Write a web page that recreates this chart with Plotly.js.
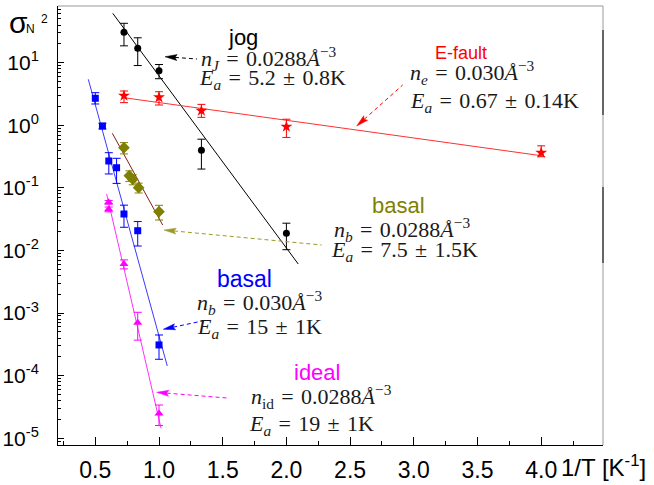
<!DOCTYPE html>
<html><head><meta charset="utf-8">
<script src="https://cdn.plot.ly/plotly-3.0.1.min.js"></script>
<style>html,body{margin:0;padding:0;background:#fff}#plot{width:654px;height:485px}</style>
</head><body><div id="plot"></div>
<script>
// ---------- data ----------
const jogX = [0.725, 0.833, 1.0, 1.333, 2.0];
const jogY = [30.6, 17.0, 7.45, 0.40, 0.0188];
const jogErr = [12, 8, 1.9, 0.2, 0.0085];
const jogFitX = [0.637, 2.093];
const jogFitY = [61.5, 0.00608];

const efX = [0.725, 1.0, 1.333, 2.0, 4.0];
const efY = [2.97, 2.80, 1.71, 0.95, 0.365];
const efErrP = [0.56, 0.64, 0.45, 0.30, 0.105];
const efErrM = [0.67, 0.69, 0.37, 0.31, 0.05];
const efFitX = [0.714, 4.0];
const efFitY = [2.78, 0.327];

const bbX = [0.5, 0.556, 0.606, 0.667, 0.725, 0.833, 1.0];
const bbY = [2.70, 0.975, 0.269, 0.210, 0.0383, 0.0207, 0.00031];
const bbErrP = [0.62, 0.10, 0.096, 0.087, 0.0147, 0.0083, 0.000137];
const bbErrM = [0.51, 0.10, 0.102, 0.092, 0.0148, 0.0089, 0.000127];
const bbFitX = [0.445, 1.065];
const bbFitY = [5.43, 0.000143];

const boX = [0.725, 0.767, 0.794, 0.84, 1.0];
const boY = [0.439, 0.157, 0.137, 0.101, 0.0417];
const boErr = [0.09, 0.03, 0.025, 0.018, 0.011];
const boFitX = [0.634, 1.029];
const boFitY = [0.745, 0.0255];

const idX = [0.605, 0.605, 0.725, 0.833, 1.0];
const idY = [0.059, 0.0455, 0.00608, 0.00070, 0.000025];
const idErr = [0.004, 0.004, 0.0010, 0.00033, 0.000009];
const idFitX = [0.589, 1.016];
const idFitY = [0.080, 0.0000145];

const xTickVals = [0.5, 1.0, 1.5, 2.0, 2.5, 3.0, 3.5, 4.0];
const xTickText = ['0.5', '1.0', '1.5', '2.0', '2.5', '3.0', '3.5', '4.0'];
const yTickVals = [10, 1, 0.1, 0.01, 0.001, 0.0001, 0.00001];
const yTickText = ['10<sup>1</sup>', '10<sup>0</sup>', '10<sup>-1</sup>', '10<sup>-2</sup>', '10<sup>-3</sup>', '10<sup>-4</sup>', '10<sup>-5</sup>'];

// ---------- layout geometry ----------
const W = 654, H = 485, ML = 58, MR = 51, MT = 6, MB = 40;
const PW = W - ML - MR, PH = H - MT - MB;
const px = x => (x - ML) / PW;
const py = y => (H - MB - y) / PH;

const OLIVE = '#808000', BLUE = '#0000ff', MAG = '#ff00ff', RED = '#ff0000';
const SANS = 'Liberation Sans, Arial, sans-serif';
const SERIF = 'Liberation Serif, Times New Roman, serif';

function pts(x, y, ep, em, color, symbol, size) {
  return {x: x, y: y, type: 'scatter', mode: 'markers', cliponaxis: false,
    marker: {color: color, symbol: symbol, size: size, line: {width: 0}},
    error_y: {type: 'data', array: ep, arrayminus: em, symmetric: false, color: color, thickness: 1, width: 4},
    showlegend: false, hoverinfo: 'skip'};
}
function fit(x, y, color) {
  return {x: x, y: y, type: 'scatter', mode: 'lines', line: {color: color, width: 1}, showlegend: false, hoverinfo: 'skip'};
}

const data = [
  fit(jogFitX, jogFitY, '#000000'),
  fit(efFitX, efFitY, '#ff3030'),
  fit(bbFitX, bbFitY, '#3a3aff'),
  fit(boFitX, boFitY, '#8b1a1a'),
  fit(idFitX, idFitY, '#ff30ff'),
  pts(jogX, jogY, jogErr, jogErr, '#000000', 'circle', 7),
  pts(efX, efY, efErrP, efErrM, RED, 'star', 9),
  pts(bbX, bbY, bbErrP, bbErrM, BLUE, 'square', 7),
  pts(boX, boY, boErr, boErr, OLIVE, 'diamond', 9),
  pts(idX, idY, idErr, idErr, MAG, 'triangle-up', 8)
];

const annotations = [];
const shapes = [];
function T(text, x, y, size, color, family, xanchor) {
  annotations.push({text: text, x: px(x), y: py(y), xref: 'paper', yref: 'paper',
    xanchor: xanchor || 'left', yanchor: 'middle', showarrow: false,
    font: {family: family, size: size, color: color}});
}
function arrow(tx, ty, sx, sy, color) {
  const dx = sx - tx, dy = sy - ty, L = Math.hypot(dx, dy);
  const ux = dx / L, uy = dy / L, nx = -uy, ny = ux;
  const hl = 12, hw = 3;
  const b1 = [tx + ux * hl + nx * hw, ty + uy * hl + ny * hw];
  const b2 = [tx + ux * hl - nx * hw, ty + uy * hl - ny * hw];
  const nc = [tx + ux * (hl - 2), ty + uy * (hl - 2)];
  shapes.push({type: 'line', xref: 'paper', yref: 'paper', x0: px(nc[0]), y0: py(nc[1]), x1: px(sx), y1: py(sy),
    line: {color: color, width: 1, dash: '4px,3px'}});
  shapes.push({type: 'path', xref: 'paper', yref: 'paper',
    path: 'M' + px(tx) + ',' + py(ty) + ' L' + px(b1[0]) + ',' + py(b1[1]) + ' L' + px(nc[0]) + ',' + py(nc[1]) +
      ' L' + px(b2[0]) + ',' + py(b2[1]) + ' Z',
    fillcolor: color, line: {color: color, width: 0.5}});
}

const SP = '\u2004';
const eq = SP + '=' + SP;
const pm = SP + '±' + SP;
const A3 = '<i>Å</i><sup>−3</sup>';
const MT_C = '#1a1a1a', MS = 22;

// y-axis title
T('σ', 7, 23, 30, '#000', SANS);
T('N', 24, 29, 12, '#000', SANS);
T('2', 39, 19, 12, '#000', SANS);

// x-axis title
T('1/T [K<sup>-1</sup>]', 559, 466, 24, '#000', SANS);

// jog
T('jog', 243, 37, 22, '#000', SANS, 'center');
T('<i>n</i><sub><i>J</i></sub>' + eq + '0.0288' + A3, 199, 58, MS, MT_C, SERIF);
T('<i>E</i><sub><i>a</i></sub>' + eq + '5.2' + pm + '0.8K', 197, 78.5, MS, MT_C, SERIF);
arrow(165, 56.7, 197, 59, '#000000');

// E-fault
T('E-fault', 461, 53, 18, RED, SANS, 'center');
T('<i>n</i><sub><i>e</i></sub>' + eq + '0.030' + A3, 408, 73, MS, MT_C, SERIF);
T('<i>E</i><sub><i>a</i></sub>' + eq + '0.67' + pm + '0.14K', 408, 102.5, MS, MT_C, SERIF);
arrow(356.7, 126, 402.7, 85, RED);

// basal (olive)
T('basal', 398, 205, 22, OLIVE, SANS, 'center');
T('<i>n</i><sub><i>b</i></sub>' + eq + '0.0288' + A3, 332, 230, MS, MT_C, SERIF);
T('<i>E</i><sub><i>a</i></sub>' + eq + '7.5' + pm + '1.5K', 329, 251, MS, MT_C, SERIF);
arrow(164, 230, 321.7, 245, '#9a9a2a');

// basal (blue)
T('basal', 244, 279, 23, BLUE, SANS, 'center');
T('<i>n</i><sub><i>b</i></sub>' + eq + '0.030' + A3, 195, 302.5, MS, MT_C, SERIF);
T('<i>E</i><sub><i>a</i></sub>' + eq + '15' + pm + '1K', 195, 327.5, MS, MT_C, SERIF);
arrow(163.3, 329.3, 207, 320, BLUE);

// ideal
T('ideal', 317, 372, 22, MAG, SANS, 'center');
T('<i>n</i><sub>id</sub>' + eq + '0.0288' + A3, 249, 396.5, MS, MT_C, SERIF);
T('<i>E</i><sub><i>a</i></sub>' + eq + '19' + pm + '1K', 247, 425, MS, MT_C, SERIF);
arrow(156.7, 392.3, 227, 398, MAG);

// frame: grey top/right, black fragments on right
shapes.push({type: 'line', xref: 'paper', yref: 'paper', x0: 0, y0: 1, x1: 1, y1: 1, line: {color: '#999999', width: 1}});
shapes.push({type: 'line', xref: 'paper', yref: 'paper', x0: 1, y0: 0, x1: 1, y1: 1, line: {color: '#999999', width: 1}});
shapes.push({type: 'line', xref: 'paper', yref: 'paper', x0: 1, y0: py(30), x1: 1, y1: py(115), line: {color: '#000000', width: 1}});
shapes.push({type: 'line', xref: 'paper', yref: 'paper', x0: 1, y0: py(187), x1: 1, y1: py(263), line: {color: '#000000', width: 1}});

const xr0 = 1 + (ML - 159) / 127.4, xr1 = 1 + (W - MR - 159) / 127.4;
const yr0 = (125.3 - (H - MB)) / 62.6, yr1 = (125.3 - MT) / 62.6;

const layout = {
  width: W, height: H, margin: {l: ML, r: MR, t: MT, b: MB, pad: 0},
  paper_bgcolor: '#ffffff', plot_bgcolor: '#ffffff', showlegend: false,
  xaxis: {range: [xr0, xr1], tickmode: 'array', tickvals: xTickVals, ticktext: xTickText,
    ticks: 'inside', ticklen: 8, tickwidth: 1, tickcolor: '#000', showline: true, linecolor: '#000', linewidth: 1,
    showgrid: false, zeroline: false, ticklabelstandoff: 4,
    tickfont: {family: SANS, size: 23, color: '#000'},
    minor: {dtick: 0.25, tick0: 0, ticks: 'inside', ticklen: 4, tickwidth: 1, tickcolor: '#000', showgrid: false}},
  yaxis: {type: 'log', range: [yr0, yr1], tickmode: 'array', tickvals: yTickVals, ticktext: yTickText,
    ticks: 'inside', ticklen: 6, tickwidth: 1, tickcolor: '#000', showline: true, linecolor: '#000', linewidth: 1,
    showgrid: false, zeroline: false, ticklabelstandoff: 14,
    tickfont: {family: SANS, size: 21, color: '#000'},
    minor: {dtick: 'D1', ticks: 'inside', ticklen: 3, tickwidth: 1, tickcolor: '#000', showgrid: false}},
  annotations: annotations, shapes: shapes
};

Plotly.newPlot('plot', data, layout, {staticPlot: true, displayModeBar: false});
</script></body></html>
